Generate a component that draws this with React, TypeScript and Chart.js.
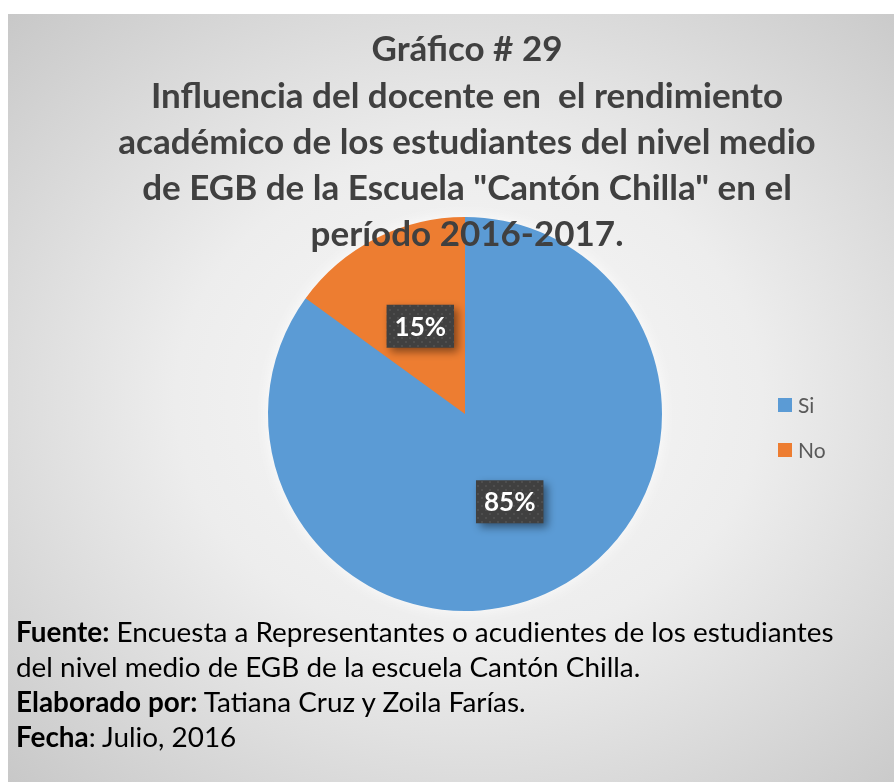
import React, { useEffect, useRef } from 'react';
import { Chart, registerables } from 'chart.js';

Chart.register(...registerables);

const categories = ['Si', 'No'];
const values = [85, 15];
const colors = ['#5B9BD5', '#ED7D31'];
const titleLines = [
  'Gráfico # 29',
  'Influencia del docente en  el rendimiento',
  'académico de los estudiantes del nivel medio',
  'de EGB de la Escuela "Cantón Chilla" en el',
  'período 2016-2017.',
];
const FONT = 'Lato, "Open Sans", sans-serif';

function makePattern(ctx: CanvasRenderingContext2D) {
  const c = document.createElement('canvas');
  c.width = 8;
  c.height = 8;
  const p = c.getContext('2d')!;
  p.fillStyle = '#404040';
  p.fillRect(0, 0, 8, 8);
  p.fillStyle = '#4e4e4e';
  p.fillRect(1, 1, 2, 2);
  p.fillRect(5, 5, 2, 2);
  return ctx.createPattern(c, 'repeat');
}

const glowPlugin = {
  id: 'pieGlow',
  beforeDatasetsDraw(chart: any) {
    const ctx = chart.ctx as CanvasRenderingContext2D;
    const arc = chart.getDatasetMeta(0).data[0];
    if (!arc) return;
    ctx.save();
    ctx.shadowColor = 'rgba(255,255,255,0.9)';
    ctx.shadowBlur = 16;
    ctx.fillStyle = colors[0];
    ctx.beginPath();
    ctx.arc(arc.x, arc.y, arc.outerRadius - 1, 0, Math.PI * 2);
    ctx.fill();
    ctx.restore();
  },
};

const titlePlugin = {
  id: 'customTitle',
  afterDraw(chart: any) {
    const ctx = chart.ctx as CanvasRenderingContext2D;
    ctx.save();
    ctx.fillStyle = '#404040';
    ctx.textAlign = 'center';
    ctx.textBaseline = 'middle';
    ctx.font = `bold 35px ${FONT}`;
    const ys = [50, 97, 143, 189, 235];
    titleLines.forEach((t, i) => ctx.fillText(t, 467, ys[i]));
    ctx.restore();
  },
};

const labelPlugin = {
  id: 'boxLabels',
  afterDatasetsDraw(chart: any) {
    const ctx = chart.ctx as CanvasRenderingContext2D;
    const meta = chart.getDatasetMeta(0);
    const data = chart.data.datasets[0].data as number[];
    const total = data.reduce((a, b) => a + b, 0);
    const pattern = makePattern(ctx);
    meta.data.forEach((arc: any, i: number) => {
      const { x, y } = arc.tooltipPosition(false);
      const text = Math.round((data[i] / total) * 100) + '%';
      ctx.save();
      ctx.font = `bold 26px ${FONT}`;
      const w = ctx.measureText(text).width + 16;
      const h = 43;
      ctx.shadowColor = 'rgba(0,0,0,0.45)';
      ctx.shadowBlur = 8;
      ctx.shadowOffsetX = 4;
      ctx.shadowOffsetY = 4;
      ctx.fillStyle = pattern || '#404040';
      ctx.fillRect(x - w / 2, y - h / 2, w, h);
      ctx.restore();
      ctx.save();
      ctx.font = `bold 26px ${FONT}`;
      ctx.fillStyle = '#ffffff';
      ctx.textAlign = 'center';
      ctx.textBaseline = 'middle';
      ctx.fillText(text, x, y + 1);
      ctx.restore();
    });
  },
};

const legendPlugin = {
  id: 'sideLegend',
  afterDraw(chart: any) {
    const ctx = chart.ctx as CanvasRenderingContext2D;
    const labels = chart.data.labels as string[];
    const bg = chart.data.datasets[0].backgroundColor as string[];
    ctx.save();
    ctx.font = `21px ${FONT}`;
    ctx.textBaseline = 'middle';
    labels.forEach((l, i) => {
      const cy = 405 + i * 45;
      ctx.fillStyle = bg[i];
      ctx.fillRect(778, cy - 7, 14, 14);
      ctx.fillStyle = '#595959';
      ctx.fillText(l, 798, cy + 1);
    });
    ctx.restore();
  },
};

export default function App() {
  const ref = useRef<HTMLCanvasElement>(null);
  useEffect(() => {
    const chart = new Chart(ref.current!, {
      type: 'pie',
      data: {
        labels: categories,
        datasets: [
          {
            data: values,
            backgroundColor: colors,
            borderWidth: 0,
          },
        ],
      },
      options: {
        responsive: false,
        animation: false,
        devicePixelRatio: 1,
        layout: { padding: { left: 268, right: 232, top: 217, bottom: 171 } },
        plugins: {
          legend: { display: false },
          title: { display: false },
          tooltip: { enabled: false },
        },
      },
      plugins: [glowPlugin, labelPlugin, titlePlugin, legendPlugin],
    });
    return () => chart.destroy();
  }, []);

  return (
    <div style={{ position: 'absolute', left: 0, top: 0, width: 894, height: 782, background: '#fff', overflow: 'hidden' }}>
      <div
        style={{
          position: 'absolute',
          left: 8,
          top: 14,
          width: 886,
          height: 768,
          background: 'radial-gradient(ellipse farthest-corner at 52% 50%, #f8f8f8 0%, #ededed 45%, #c8c8c8 100%)',
        }}
      />
      <canvas ref={ref} width={894} height={782} style={{ position: 'absolute', left: 0, top: 0, width: 894, height: 782 }} />
      <div
        style={{
          position: 'absolute',
          left: 16,
          top: 614,
          fontFamily: FONT,
          fontSize: 27.9,
          lineHeight: '35px',
          color: '#000',
          whiteSpace: 'nowrap',
        }}
      >
        <b>Fuente:</b> Encuesta a Representantes o acudientes de los estudiantes
        <br />
        del nivel medio de EGB de la escuela Cantón Chilla.
        <br />
        <b>Elaborado por:</b> Tatiana Cruz y Zoila Farías.
        <br />
        <b>Fecha</b>: Julio, 2016
      </div>
    </div>
  );
}
